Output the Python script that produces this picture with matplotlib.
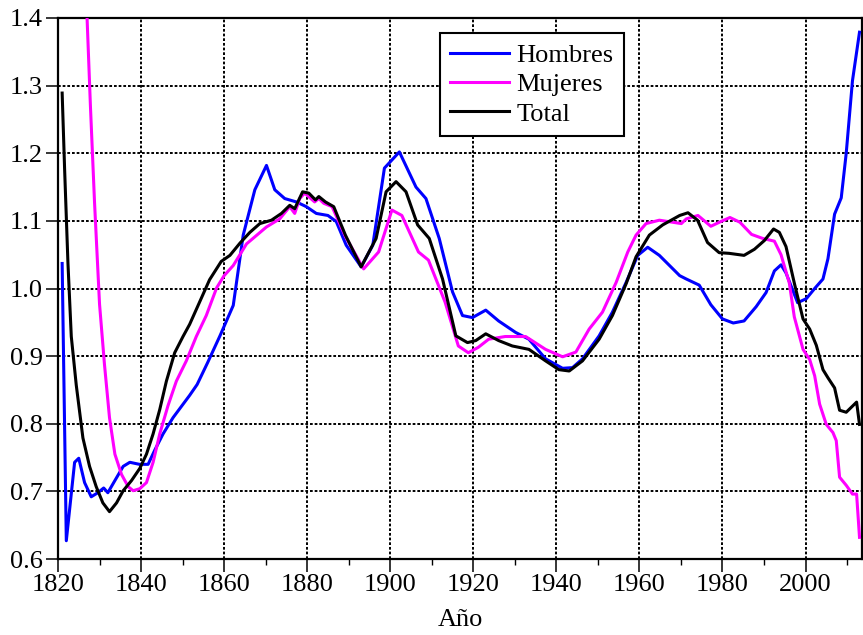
import numpy as np
import matplotlib.pyplot as plt
from matplotlib.ticker import MultipleLocator

# Datos
hombres_anios = [1821, 1822, 1824, 1825, 1826.4, 1828, 1829.6, 1831, 1832, 1833.7, 1835.7, 1837.3,
                 1839.6, 1841.7, 1843.3, 1845.3, 1847.7, 1851.7, 1853.5, 1856, 1859, 1862.2, 1864.6,
                 1867.4, 1870.2, 1872.2, 1874.6, 1877.4, 1879.8, 1882.2, 1885, 1887, 1889.4, 1893,
                 1895.8, 1898.6, 1902.2, 1906.2, 1908.6, 1911.8, 1915, 1917.4, 1919.8, 1923, 1926.1,
                 1930.2, 1933.4, 1937.4, 1941.5, 1943.9, 1946.3, 1950.3, 1953.5, 1956.8, 1959.6, 1962,
                 1964.8, 1969.7, 1971.3, 1974.4, 1977.2, 1980, 1982.6, 1985.2, 1988.1, 1990.5, 1992.5,
                 1994.1, 1995.3, 1998.1, 2000.2, 2002.2, 2004.2, 2005.4, 2007, 2008.6, 2009.8, 2011.3,
                 2013]
hombres = [1.037, 0.627, 0.743, 0.749, 0.713, 0.692, 0.698, 0.705, 0.698, 0.716, 0.737, 0.743,
           0.740, 0.740, 0.761, 0.785, 0.809, 0.842, 0.858, 0.890, 0.930, 0.975, 1.079,
           1.146, 1.182, 1.146, 1.133, 1.128, 1.121, 1.111, 1.108, 1.099, 1.064, 1.032,
           1.064, 1.178, 1.202, 1.150, 1.133, 1.074, 0.995, 0.960, 0.957, 0.968, 0.952,
           0.935, 0.925, 0.896, 0.882, 0.883, 0.896, 0.930, 0.965, 1.009, 1.049, 1.061,
           1.049, 1.019, 1.014, 1.005, 0.976, 0.955, 0.949, 0.952, 0.973, 0.994, 1.026,
           1.035, 1.023, 0.979, 0.985, 1.000, 1.014, 1.044, 1.110, 1.134, 1.200, 1.307,
           1.379]

mujeres_anios = [1827, 1827.8, 1828.8, 1830, 1831.2, 1832.4, 1833.7, 1835.3, 1836.9, 1838.1, 1839.7,
                 1841.3, 1842.9, 1844.5, 1846.5, 1848.5, 1850.9, 1853.3, 1855.7, 1858.2, 1860,
                 1862.2, 1865.4, 1870.2, 1873.4, 1875.8, 1877, 1878.2, 1879.4, 1881.8, 1882.8, 1884,
                 1886, 1889.2, 1893.6, 1897.2, 1900.4, 1902.8, 1906.8, 1909.2, 1913.2, 1916.4,
                 1918.8, 1921.2, 1923.7, 1927.7, 1932.6, 1937.4, 1941.5, 1944.7, 1947.9, 1951.1,
                 1954.4, 1957.2, 1959.2, 1961.6, 1964.8, 1970.1, 1971.3, 1974.1, 1977.2, 1979.6,
                 1981.8, 1984.2, 1987, 1989.7, 1992.5, 1994.1, 1996.1, 1997.3, 1999.4, 2001, 2002.2,
                 2003.4, 2005, 2006.6, 2007.4, 2008.2, 2009.8, 2011.3, 2012.3, 2013]
mujeres = [1.40, 1.271, 1.127, 0.977, 0.887, 0.809, 0.755, 0.725, 0.707, 0.701, 0.704,
           0.713, 0.743, 0.785, 0.827, 0.863, 0.893, 0.929, 0.960, 1.001, 1.019,
           1.034, 1.066, 1.091, 1.103, 1.121, 1.111, 1.133, 1.141, 1.128, 1.133, 1.126,
           1.121, 1.077, 1.029, 1.054, 1.116, 1.108, 1.054, 1.042, 0.980, 0.915,
           0.905, 0.913, 0.925, 0.929, 0.929, 0.910, 0.899, 0.906, 0.940, 0.965,
           1.009, 1.054, 1.079, 1.096, 1.101, 1.096, 1.103, 1.108, 1.092, 1.099,
           1.105, 1.098, 1.080, 1.074, 1.070, 1.050, 1.008, 0.958, 0.910, 0.895, 0.871,
           0.829, 0.799, 0.787, 0.775, 0.721, 0.709, 0.696, 0.696, 0.632]

total_anios = [1821, 1821.6, 1822.4, 1823.2, 1824.4, 1826, 1827.6, 1829.2, 1830.8, 1832.4, 1834.1,
               1835.7, 1837.7, 1839.7, 1841.3, 1842.9, 1844.5, 1846.1, 1848.1, 1850.1, 1851.7,
               1854.1, 1856.5, 1859.3, 1861.4, 1863.8, 1866.2, 1868.6, 1871.4, 1873.8, 1875.8,
               1877, 1878.9, 1880.4, 1882, 1882.8, 1884.4, 1886.4, 1889.2, 1893, 1896.6, 1899,
               1901.4, 1903.8, 1906.6, 1909.4, 1912.6, 1915.8, 1918.6, 1920.6, 1923, 1926.1,
               1929.4, 1933.4, 1937.4, 1940.6, 1943.1, 1946.3, 1950.3, 1953.5, 1956.8, 1959.2,
               1962.4, 1965.6, 1969.7, 1971.7, 1974, 1976.4, 1979.2, 1981.6, 1985.2, 1987.7,
               1990.1, 1992.3, 1993.7, 1995.3, 1997.3, 1999.4, 2001, 2002.6, 2004.2, 2005.4, 2007,
               2008.2, 2009.8, 2012.3, 2013]
total = [1.289, 1.175, 1.037, 0.929, 0.857, 0.779, 0.737, 0.707, 0.683, 0.670, 0.683,
         0.701, 0.716, 0.734, 0.755, 0.785, 0.821, 0.863, 0.905, 0.929, 0.947,
         0.980, 1.013, 1.040, 1.049, 1.067, 1.083, 1.096, 1.101, 1.111, 1.123,
         1.118, 1.143, 1.141, 1.131, 1.136, 1.128, 1.121, 1.079, 1.032, 1.074, 1.143,
         1.158, 1.143, 1.094, 1.074, 1.014, 0.930, 0.920, 0.923, 0.933, 0.923,
         0.915, 0.910, 0.893, 0.880, 0.878, 0.893, 0.925, 0.960, 1.007, 1.047,
         1.079, 1.094, 1.108, 1.112, 1.101, 1.068, 1.053, 1.052, 1.049, 1.058,
         1.071, 1.088, 1.083, 1.062, 1.008, 0.955, 0.940, 0.916, 0.880, 0.868, 0.853,
         0.820, 0.817, 0.832, 0.799]

plt.rcParams['font.family'] = ['Liberation Serif', 'DejaVu Serif']
plt.rcParams['font.size'] = 19

fig = plt.figure(figsize=(8.63, 6.35), dpi=100)
ax = fig.add_axes([58 / 863, 1 - 559 / 635, 804 / 863, 541 / 635])

ax.plot(hombres_anios, hombres, color='#0000ff', lw=2.2, label='Hombres', zorder=3)
ax.plot(mujeres_anios, mujeres, color='#ff00ff', lw=2.2, label='Mujeres', zorder=3)
ax.plot(total_anios, total, color='black', lw=2.2, label='Total', zorder=4)

ax.set_xlim(1820, 2013.6)
ax.set_ylim(0.6, 1.4)
ax.xaxis.set_major_locator(MultipleLocator(20))
ax.xaxis.set_minor_locator(MultipleLocator(10))
ax.yaxis.set_major_locator(MultipleLocator(0.1))
ax.yaxis.set_major_formatter(plt.FuncFormatter(lambda v, p: f'{v:.1f}'))

ax.grid(True, which='major', color='black', lw=1.4, linestyle=(0, (1.4, 1.0)))
ax.set_axisbelow(True)
for s in ax.spines.values():
    s.set_linewidth(1.6)
ax.tick_params(which='major', direction='out', length=9, width=1.1, pad=2)
ax.tick_params(which='minor', direction='out', length=4.5, width=1)

ax.set_xlabel('Año', labelpad=9)

leg = ax.legend(loc='upper left', bbox_to_anchor=(0.475, 0.972), borderaxespad=0,
                fancybox=False, framealpha=1, edgecolor='black', handlelength=2.2,
                handletextpad=0.3, labelspacing=0.22, borderpad=0.4)
leg.get_frame().set_linewidth(1.5)

fig.savefig('out.png', dpi=100)
